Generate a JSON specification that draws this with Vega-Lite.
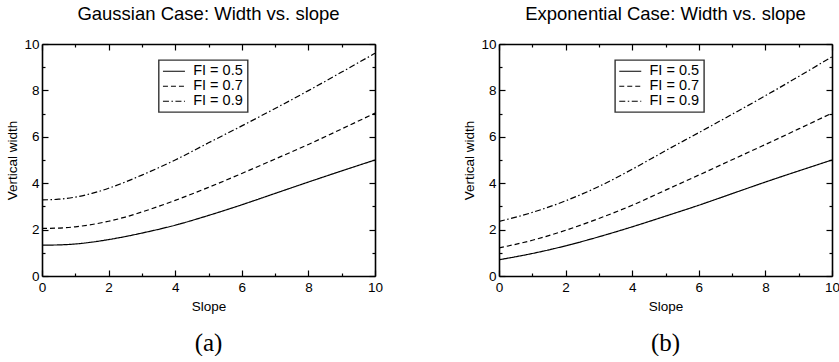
{
  "$schema": "https://vega.github.io/schema/vega-lite/v6.json",
  "padding": {"left": 5, "top": 4, "right": 0, "bottom": 0},
  "background": "white",
  "datasets": {
    "gauss": [
      {"slope": 0, "width": 1.33, "fi": "FI = 0.5"},
      {"slope": 0.5, "width": 1.34, "fi": "FI = 0.5"},
      {"slope": 1, "width": 1.38, "fi": "FI = 0.5"},
      {"slope": 1.5, "width": 1.46, "fi": "FI = 0.5"},
      {"slope": 2, "width": 1.57, "fi": "FI = 0.5"},
      {"slope": 2.5, "width": 1.7, "fi": "FI = 0.5"},
      {"slope": 3, "width": 1.85, "fi": "FI = 0.5"},
      {"slope": 4, "width": 2.19, "fi": "FI = 0.5"},
      {"slope": 5, "width": 2.61, "fi": "FI = 0.5"},
      {"slope": 6, "width": 3.07, "fi": "FI = 0.5"},
      {"slope": 7, "width": 3.56, "fi": "FI = 0.5"},
      {"slope": 8, "width": 4.05, "fi": "FI = 0.5"},
      {"slope": 9, "width": 4.53, "fi": "FI = 0.5"},
      {"slope": 10, "width": 5.0, "fi": "FI = 0.5"},
      {"slope": 0, "width": 2.05, "fi": "FI = 0.7"},
      {"slope": 0.5, "width": 2.065, "fi": "FI = 0.7"},
      {"slope": 1, "width": 2.12, "fi": "FI = 0.7"},
      {"slope": 1.5, "width": 2.22, "fi": "FI = 0.7"},
      {"slope": 2, "width": 2.36, "fi": "FI = 0.7"},
      {"slope": 2.5, "width": 2.54, "fi": "FI = 0.7"},
      {"slope": 3, "width": 2.76, "fi": "FI = 0.7"},
      {"slope": 4, "width": 3.26, "fi": "FI = 0.7"},
      {"slope": 5, "width": 3.82, "fi": "FI = 0.7"},
      {"slope": 6, "width": 4.42, "fi": "FI = 0.7"},
      {"slope": 7, "width": 5.04, "fi": "FI = 0.7"},
      {"slope": 8, "width": 5.67, "fi": "FI = 0.7"},
      {"slope": 9, "width": 6.34, "fi": "FI = 0.7"},
      {"slope": 10, "width": 7.02, "fi": "FI = 0.7"},
      {"slope": 0, "width": 3.28, "fi": "FI = 0.9"},
      {"slope": 0.5, "width": 3.31, "fi": "FI = 0.9"},
      {"slope": 1, "width": 3.4, "fi": "FI = 0.9"},
      {"slope": 1.5, "width": 3.56, "fi": "FI = 0.9"},
      {"slope": 2, "width": 3.78, "fi": "FI = 0.9"},
      {"slope": 2.5, "width": 4.05, "fi": "FI = 0.9"},
      {"slope": 3, "width": 4.35, "fi": "FI = 0.9"},
      {"slope": 4, "width": 5.0, "fi": "FI = 0.9"},
      {"slope": 5, "width": 5.74, "fi": "FI = 0.9"},
      {"slope": 6, "width": 6.47, "fi": "FI = 0.9"},
      {"slope": 7, "width": 7.22, "fi": "FI = 0.9"},
      {"slope": 8, "width": 7.99, "fi": "FI = 0.9"},
      {"slope": 9, "width": 8.79, "fi": "FI = 0.9"},
      {"slope": 10, "width": 9.6, "fi": "FI = 0.9"}
    ],
    "expo": [
      {"slope": 0, "width": 0.7, "fi": "FI = 0.5"},
      {"slope": 1, "width": 0.97, "fi": "FI = 0.5"},
      {"slope": 2, "width": 1.3, "fi": "FI = 0.5"},
      {"slope": 3, "width": 1.69, "fi": "FI = 0.5"},
      {"slope": 4, "width": 2.12, "fi": "FI = 0.5"},
      {"slope": 5, "width": 2.58, "fi": "FI = 0.5"},
      {"slope": 6, "width": 3.05, "fi": "FI = 0.5"},
      {"slope": 7, "width": 3.55, "fi": "FI = 0.5"},
      {"slope": 8, "width": 4.05, "fi": "FI = 0.5"},
      {"slope": 9, "width": 4.53, "fi": "FI = 0.5"},
      {"slope": 10, "width": 5.0, "fi": "FI = 0.5"},
      {"slope": 0, "width": 1.21, "fi": "FI = 0.7"},
      {"slope": 1, "width": 1.54, "fi": "FI = 0.7"},
      {"slope": 2, "width": 1.97, "fi": "FI = 0.7"},
      {"slope": 3, "width": 2.48, "fi": "FI = 0.7"},
      {"slope": 4, "width": 3.05, "fi": "FI = 0.7"},
      {"slope": 5, "width": 3.7, "fi": "FI = 0.7"},
      {"slope": 6, "width": 4.35, "fi": "FI = 0.7"},
      {"slope": 7, "width": 5.01, "fi": "FI = 0.7"},
      {"slope": 8, "width": 5.67, "fi": "FI = 0.7"},
      {"slope": 9, "width": 6.34, "fi": "FI = 0.7"},
      {"slope": 10, "width": 7.02, "fi": "FI = 0.7"},
      {"slope": 0, "width": 2.35, "fi": "FI = 0.9"},
      {"slope": 1, "width": 2.74, "fi": "FI = 0.9"},
      {"slope": 2, "width": 3.24, "fi": "FI = 0.9"},
      {"slope": 3, "width": 3.86, "fi": "FI = 0.9"},
      {"slope": 4, "width": 4.6, "fi": "FI = 0.9"},
      {"slope": 5, "width": 5.4, "fi": "FI = 0.9"},
      {"slope": 6, "width": 6.18, "fi": "FI = 0.9"},
      {"slope": 7, "width": 6.97, "fi": "FI = 0.9"},
      {"slope": 8, "width": 7.77, "fi": "FI = 0.9"},
      {"slope": 9, "width": 8.6, "fi": "FI = 0.9"},
      {"slope": 10, "width": 9.45, "fi": "FI = 0.9"}
    ]
  },
  "hconcat": [
    {
      "title": {"text": "(a)", "orient": "bottom", "anchor": "start", "align": "center", "dx": 166.5, "frame": "group", "font": "Liberation Serif", "fontSize": 25, "fontWeight": "normal", "offset": 18},
      "vconcat": [
        {
          "width": 333,
          "height": 232,
          "title": {"text": "Gaussian Case: Width vs. slope", "anchor": "middle", "frame": "group", "offset": 14},
          "data": {"name": "gauss"},
          "layer": [
            {
              "mark": {"type": "line", "color": "black", "strokeWidth": 1.2, "interpolate": "monotone", "clip": true},
              "encoding": {
                "x": {"field": "slope", "type": "quantitative", "scale": {"domain": [0, 10], "nice": false},
                  "axis": {"orient": "bottom", "title": "Slope", "values": [0,1,2,3,4,5,6,7,8,9,10], "labelExpr": "datum.value % 2 === 0 ? datum.label : ''", "tickSize": {"condition": {"test": "datum.value % 2 === 0", "value": -6}, "value": -3}, "labelPadding": 10, "titlePadding": 3}},
                "y": {"field": "width", "type": "quantitative", "scale": {"domain": [0, 10], "nice": false},
                  "axis": {"orient": "left", "title": "Vertical width", "values": [0,1,2,3,4,5,6,7,8,9,10], "labelExpr": "datum.value % 2 === 0 ? datum.label : ''", "tickSize": {"condition": {"test": "datum.value % 2 === 0", "value": -6}, "value": -3}, "labelPadding": 9, "titlePadding": 4}},
                "strokeDash": {"field": "fi", "type": "nominal",
                  "scale": {"domain": ["FI = 0.5", "FI = 0.7", "FI = 0.9"], "range": [[1, 0], [5, 3], [6, 2.5, 1.5, 2.5]]},
                  "legend": {"orient": "none", "legendX": 116.7, "legendY": 16}}
              }
            },
            {
              "mark": {"type": "point", "opacity": 0},
              "encoding": {
                "x": {"field": "slope", "type": "quantitative", "axis": {"orient": "top", "title": null, "labels": false, "values": [0,1,2,3,4,5,6,7,8,9,10], "tickSize": {"condition": {"test": "datum.value % 2 === 0", "value": -6}, "value": -3}}},
                "y": {"field": "width", "type": "quantitative", "axis": {"orient": "right", "title": null, "labels": false, "values": [0,1,2,3,4,5,6,7,8,9,10], "tickSize": {"condition": {"test": "datum.value % 2 === 0", "value": -6}, "value": -3}}}
              }
            }
          ],
          "resolve": {"axis": {"x": "independent", "y": "independent"}}
        }
      ],
      "resolve": {"scale": {"strokeDash": "independent"}}
    },
    {
      "title": {"text": "(b)", "orient": "bottom", "anchor": "start", "align": "center", "dx": 166.5, "frame": "group", "font": "Liberation Serif", "fontSize": 25, "fontWeight": "normal", "offset": 18},
      "vconcat": [
        {
          "width": 333,
          "height": 232,
          "title": {"text": "Exponential Case: Width vs. slope", "anchor": "middle", "frame": "group", "offset": 14},
          "data": {"name": "expo"},
          "layer": [
            {
              "mark": {"type": "line", "color": "black", "strokeWidth": 1.2, "interpolate": "monotone", "clip": true},
              "encoding": {
                "x": {"field": "slope", "type": "quantitative", "scale": {"domain": [0, 10], "nice": false},
                  "axis": {"orient": "bottom", "title": "Slope", "values": [0,1,2,3,4,5,6,7,8,9,10], "labelExpr": "datum.value % 2 === 0 ? datum.label : ''", "tickSize": {"condition": {"test": "datum.value % 2 === 0", "value": -6}, "value": -3}, "labelPadding": 10, "titlePadding": 3}},
                "y": {"field": "width", "type": "quantitative", "scale": {"domain": [0, 10], "nice": false},
                  "axis": {"orient": "left", "title": "Vertical width", "values": [0,1,2,3,4,5,6,7,8,9,10], "labelExpr": "datum.value % 2 === 0 ? datum.label : ''", "tickSize": {"condition": {"test": "datum.value % 2 === 0", "value": -6}, "value": -3}, "labelPadding": 9, "titlePadding": 4}},
                "strokeDash": {"field": "fi", "type": "nominal",
                  "scale": {"domain": ["FI = 0.5", "FI = 0.7", "FI = 0.9"], "range": [[1, 0], [5, 3], [6, 2.5, 1.5, 2.5]]},
                  "legend": {"orient": "none", "legendX": 116, "legendY": 16}}
              }
            },
            {
              "mark": {"type": "point", "opacity": 0},
              "encoding": {
                "x": {"field": "slope", "type": "quantitative", "axis": {"orient": "top", "title": null, "labels": false, "values": [0,1,2,3,4,5,6,7,8,9,10], "tickSize": {"condition": {"test": "datum.value % 2 === 0", "value": -6}, "value": -3}}},
                "y": {"field": "width", "type": "quantitative", "axis": {"orient": "right", "title": null, "labels": false, "values": [0,1,2,3,4,5,6,7,8,9,10], "tickSize": {"condition": {"test": "datum.value % 2 === 0", "value": -6}, "value": -3}}}
              }
            }
          ],
          "resolve": {"axis": {"x": "independent", "y": "independent"}}
        }
      ],
      "resolve": {"scale": {"strokeDash": "independent"}}
    }
  ],
  "spacing": 79,
  "resolve": {"scale": {"strokeDash": "independent"}},
  "config": {
    "view": {"stroke": null},
    "font": "Liberation Sans",
    "title": {"font": "Liberation Sans", "fontSize": 18.5, "fontWeight": "normal", "color": "black"},
    "axis": {
      "grid": false,
      "domainColor": "black",
      "domainWidth": 1.6,
      "tickColor": "black",
      "tickWidth": 1.2,
      "labelColor": "black",
      "labelFont": "Liberation Sans",
      "labelFontSize": 13.5,
      "labelFlush": false,
      "labelOverlap": false,
      "titleColor": "black",
      "titleFont": "Liberation Sans",
      "titleFontSize": 13.5,
      "titleFontWeight": "normal"
    },
    "legend": {
      "title": null,
      "strokeColor": "#333",
      "strokeWidth": 1.4,
      "fillColor": "white",
      "padding": 4,
      "symbolType": "M-1.1667,0H2.5",
      "symbolSize": 144,
      "symbolStrokeWidth": 1.2,
      "symbolStrokeColor": "black",
      "labelFont": "Liberation Sans",
      "labelFontSize": 14.5,
      "labelColor": "black",
      "labelOffset": 16,
      "rowPadding": 0
    }
  }
}
